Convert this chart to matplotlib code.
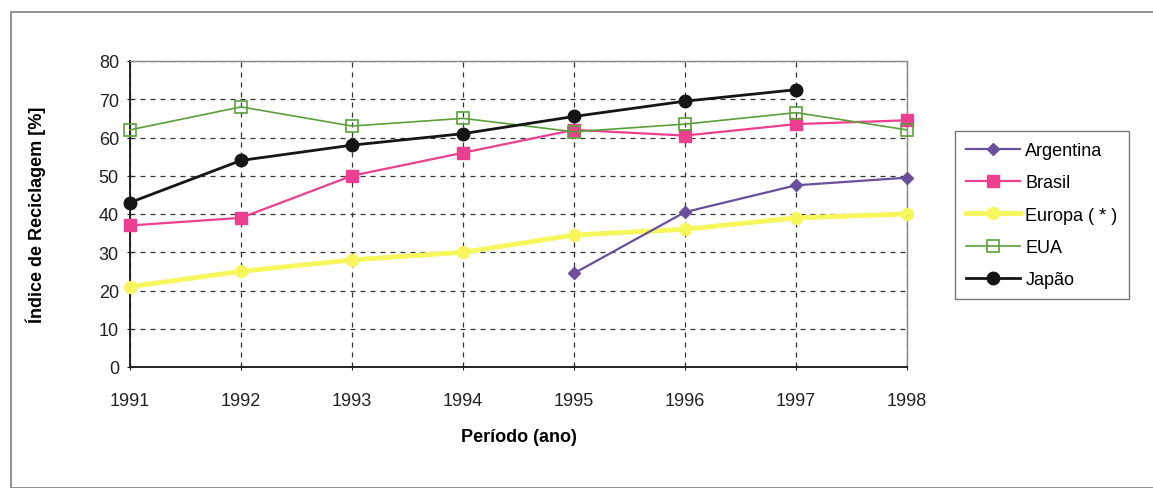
import matplotlib
matplotlib.use("Agg")
import matplotlib.pyplot as plt
from matplotlib.patches import Rectangle

anos = [1991, 1992, 1993, 1994, 1995, 1996, 1997, 1998]

argentina_anos = [1995, 1996, 1997, 1998]
argentina = [24.5, 40.5, 47.5, 49.5]
brasil = [37, 39, 50, 56, 62, 60.5, 63.5, 64.5]
europa = [21, 25, 28, 30, 34.5, 36, 39, 40]
eua = [62, 68, 63, 65, 61.5, 63.5, 66.5, 62]
japao_anos = [1991, 1992, 1993, 1994, 1995, 1996, 1997]
japao = [43, 54, 58, 61, 65.5, 69.5, 72.5]

plt.rcParams["font.family"] = ["Liberation Sans", "DejaVu Sans"]

fig = plt.figure(figsize=(11.53, 4.89), dpi=100)
fig.patch.set_facecolor("white")

# moldura externa
fig.patches.append(Rectangle((11 / 1153, 0.0), 1.0, 1 - 13 / 489, transform=fig.transFigure,
                             fill=False, edgecolor="#8a8a8a", linewidth=1.3))

ax = fig.add_axes([130 / 1153, 1 - 368 / 489, (907 - 130) / 1153, (368 - 62) / 489])

ax.plot(argentina_anos, argentina, color="#6a4f9c", marker="D", markersize=6,
        linewidth=1.6, label="Argentina", zorder=4, clip_on=False)
ax.plot(anos, brasil, color="#ec3f8f", marker="s", markersize=8,
        linewidth=1.6, label="Brasil", zorder=4, clip_on=False)
ax.plot(anos, europa, color="#f7f65c", marker="o", markersize=8.5,
        linewidth=3.5, label="Europa ( * )", zorder=3, clip_on=False)
ax.plot(anos, eua, color="#5aa03a", marker="s", markersize=9, markerfacecolor="none",
        markeredgewidth=1.2, linewidth=1.2, label="EUA", zorder=4, clip_on=False)
ax.plot(japao_anos, japao, color="#151515", marker="o", markersize=9,
        linewidth=2.0, label="Japão", zorder=5, clip_on=False)

ax.set_xlim(1991, 1998)
ax.set_ylim(0, 80)
ax.set_xticks(anos)
ax.set_yticks(range(0, 81, 10))
ax.tick_params(axis="both", labelsize=13, colors="#222222", length=4, direction="inout")
ax.tick_params(axis="x", pad=16)
ax.tick_params(axis="y", pad=6)
ax.grid(True, color="#333333", linestyle=(0, (4, 4)), linewidth=0.9)

for lado in ["top", "right"]:
    ax.spines[lado].set_color("#888888")
    ax.spines[lado].set_linewidth(1.0)
for lado in ["left", "bottom"]:
    ax.spines[lado].set_color("#222222")
    ax.spines[lado].set_linewidth(1.4)

ax.set_xlabel("Período (ano)", fontsize=13, fontweight="bold", labelpad=14)
ax.set_ylabel("Índice de Reciclagem [%]", fontsize=13, fontweight="bold", labelpad=38)

leg = fig.legend(loc="upper left", bbox_to_anchor=(955 / 1153, 1 - 132 / 489),
                 borderaxespad=0, fontsize=13, frameon=True, fancybox=False,
                 handlelength=3.0, labelspacing=0.85, borderpad=0.6, handletextpad=0.3)
leg.get_frame().set_edgecolor("#555555")
leg.get_frame().set_linewidth(1.0)

fig.savefig("out.png", dpi=100)
